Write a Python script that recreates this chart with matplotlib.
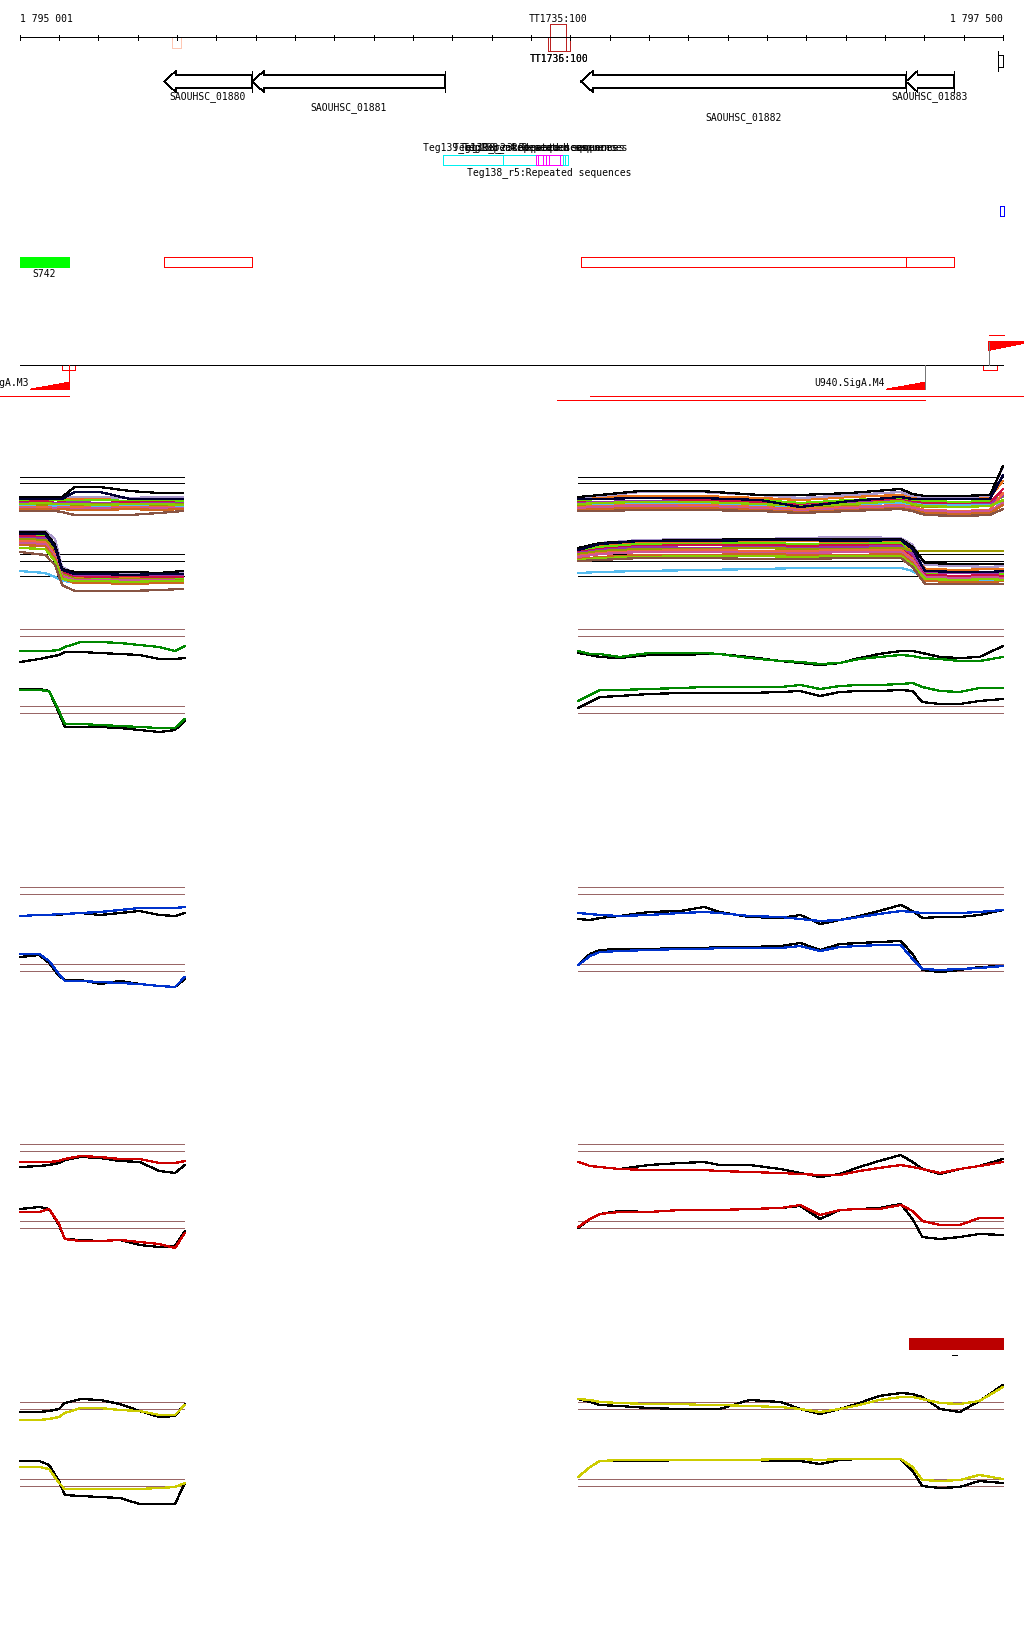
import matplotlib.pyplot as plt
from matplotlib.patches import Polygon, Rectangle

plt.rcParams['font.family'] = ['DejaVu Sans Mono']
plt.rcParams['lines.antialiased'] = False
plt.rcParams['patch.antialiased'] = False

# genome window shown
window_start = 1795001
window_end = 1797500
tick_step = 100

# genes (all on the minus strand)
gene_names = ['SAOUHSC_01880', 'SAOUHSC_01881', 'SAOUHSC_01882', 'SAOUHSC_01883']
gene_starts = [1795367, 1795591, 1796427, 1797253]
gene_ends = [1795591, 1796081, 1797253, 1797375]
gene_label_rows = [0, 1, 2, 0]

# terminators
term_names = ['TT1735:100', 'TT1736:100', 'TT1735:100']
term_starts = [1796348, 1796343, 1796343]
term_ends = [1796389, 1796399, 1796399]
term_sides = ['above', 'below', 'below']

# Teg regions
teg_starts = [1796076, 1796229, 1796313, 1796318, 1796330, 1796374, 1796381]
teg_ends = [1796394, 1796394, 1796381, 1796338, 1796345, 1796381, 1796386]
teg_colors = ['#00f0f0', '#00f0f0', '#ff00ff', '#ff00ff', '#ff00ff', '#ff00ff', '#00f0f0']
teg_labels = ['Teg139_r1:Repeated sequences', 'Teg139_r2:Repeated sequences',
              'Teg138_r5:Repeated sequences', 'Teg138_r3:Repeated sequences',
              'Teg138_r4:Repeated sequences', '', '']
teg_rows = ['top', 'top', 'bottom', 'top', 'top', 'top', 'top']

# small annotation row
srna_name = 'S742'
srna_start = 1795001
srna_end = 1795126

# promoters / TSS
prom_pos = [1795126, 1797302, 1797464]
prom_strand = ['-', '-', '+']
prom_names = ['U939.SigA.M3', 'U940.SigA.M4', '']
prom_stem_colors = ['#ff0000', '#777777', '#777777']
prom_len = 100
prom_box_starts = [1795108, 1797449]
prom_box_ends = [1795141, 1797485]

# transcripts (start, end, row)
tx_starts = [1794950, 1796450, 1796366]
tx_ends = [1795126, 1797553, 1797302]
tx_rows = [0, 0, 1]

# red bar over the last panel
bar_start = 1797261
bar_end = 1797500

# tiling array positions
left_pos = [1795001, 1795050, 1795075, 1795100, 1795115, 1795155, 1795205, 1795255,
            1795305, 1795355, 1795395, 1795420]
right_pos = [1796420, 1796450, 1796475, 1796525, 1796600, 1796680, 1796740, 1796780,
             1796855, 1796935, 1796985, 1797035, 1797085, 1797135, 1797185, 1797240,
             1797270, 1797295, 1797340, 1797390, 1797440, 1797500]
bundle_left_pos = [1795001, 1795065, 1795090, 1795108, 1795140, 1795205, 1795280, 1795355, 1795415]
bundle_right_pos = [1796420, 1796475, 1796577, 1796730, 1796882, 1796985, 1797111, 1797240,
                    1797270, 1797302, 1797390, 1797467, 1797500]

# condition bundle (log2 signal)
bundle_colors = ['#e8731c', '#66dd00', '#cc1144', '#9933aa', '#999900', '#55bbee', '#ee6644',
                 '#cc5599', '#cc6622', '#aa99cc', '#88cc00', '#885544', '#000000', '#000033']
bundle_up_left = [
    [8.25, 8.25, 8.0, 8.25, 8.0, 8.0, 8.25, 8.0, 8.25],
    [7.75, 7.5, 7.75, 7.75, 7.5, 7.75, 7.5, 7.75, 7.5],
    [7.25, 7.5, 7.0, 7.25, 7.25, 7.0, 7.25, 7.25, 7.0],
    [7.0, 6.75, 7.0, 7.0, 7.25, 7.0, 6.75, 7.0, 7.0],
    [6.5, 6.5, 6.75, 6.5, 6.5, 6.75, 6.5, 6.5, 6.75],
    [6.25, 6.0, 6.25, 6.25, 6.0, 6.25, 6.25, 6.0, 6.25],
    [6.0, 6.0, 5.75, 6.0, 6.0, 5.75, 6.0, 6.0, 5.75],
    [5.75, 5.5, 5.75, 5.75, 5.5, 5.75, 5.5, 5.75, 5.75],
    [5.5, 5.5, 5.25, 5.5, 5.25, 5.25, 5.5, 5.25, 5.5],
    [8.5, 8.5, 8.25, 8.5, 8.5, 8.5, 8.25, 8.5, 8.5],
    [6.75, 7.0, 6.75, 6.75, 6.75, 6.5, 6.75, 6.75, 6.5],
    [5.0, 5.0, 5.0, 4.75, 4.0, 4.0, 4.0, 4.5, 5.0],
    [8.5, 8.5, 8.5, 8.5, 11.0, 11.0, 10.0, 9.5, 9.5],
    [8.0, 8.0, 8.0, 8.0, 9.75, 9.75, 8.0, 8.0, 8.0],
]
bundle_up_right = [
    [8.25, 8.5, 8.75, 8.75, 8.25, 7.75, 8.5, 9.0, 8.5, 8.25, 8.25, 8.5, 12.5],
    [7.75, 8.0, 8.25, 8.25, 7.75, 7.0, 7.75, 8.25, 7.75, 7.5, 7.25, 7.5, 8.5],
    [7.25, 7.25, 7.5, 7.75, 7.25, 6.5, 7.25, 7.75, 7.25, 7.0, 6.75, 7.0, 10.5],
    [7.0, 7.25, 7.5, 7.25, 6.75, 6.25, 7.0, 7.5, 7.0, 6.5, 6.5, 6.75, 8.75],
    [6.5, 6.75, 7.0, 7.0, 6.5, 6.0, 6.5, 7.25, 6.5, 6.0, 6.0, 6.25, 7.5],
    [6.75, 6.75, 6.75, 6.75, 6.5, 6.25, 6.75, 7.0, 6.75, 6.5, 6.5, 6.5, 7.0],
    [6.0, 6.25, 6.5, 6.5, 6.0, 5.5, 6.0, 6.5, 6.0, 5.25, 5.0, 5.25, 9.5],
    [5.75, 6.0, 6.25, 6.0, 5.75, 5.0, 5.75, 6.25, 5.75, 5.0, 4.75, 5.0, 7.0],
    [5.25, 5.5, 5.75, 5.75, 5.25, 4.75, 5.25, 5.75, 5.25, 4.5, 4.25, 4.5, 6.5],
    [8.5, 8.75, 9.75, 9.75, 9.0, 8.25, 9.0, 9.75, 8.75, 8.5, 8.5, 8.75, 16.0],
    [6.75, 7.0, 7.25, 7.25, 6.75, 6.25, 6.75, 7.5, 6.75, 6.25, 6.0, 6.25, 7.75],
    [5.0, 5.0, 5.25, 5.25, 5.0, 4.5, 5.0, 5.5, 5.0, 4.0, 3.75, 4.0, 5.5],
    [8.5, 9.0, 10.0, 10.0, 9.0, 9.0, 9.5, 10.5, 9.25, 8.75, 8.75, 9.0, 16.25],
    [8.0, 8.0, 8.25, 8.25, 7.75, 6.0, 7.5, 8.5, 8.0, 8.0, 8.0, 8.0, 14.0],
]
bundle_low_left = [
    [15.5, 15.5, 12.0, 6.0, 4.5, 4.5, 4.25, 4.5, 4.5],
    [15.0, 15.0, 12.5, 5.5, 4.0, 4.25, 4.0, 4.0, 4.25],
    [14.75, 14.5, 11.0, 5.75, 4.75, 4.5, 4.75, 4.5, 4.5],
    [14.25, 14.25, 12.75, 6.5, 5.0, 5.0, 5.25, 5.0, 5.0],
    [14.0, 13.75, 11.5, 5.25, 4.0, 3.75, 4.0, 4.0, 3.75],
    [6.0, 5.5, 4.5, 3.5, 3.25, 3.25, 3.25, 3.0, 3.0],
    [13.5, 13.25, 10.0, 4.5, 3.5, 3.25, 3.5, 3.25, 3.5],
    [13.0, 12.75, 9.5, 4.75, 3.75, 3.75, 3.75, 3.75, 3.5],
    [12.5, 12.25, 9.0, 4.25, 3.0, 3.0, 2.75, 3.0, 3.0],
    [16.0, 16.0, 14.0, 7.0, 5.5, 5.25, 5.5, 5.25, 5.5],
    [11.75, 11.5, 8.5, 4.0, 3.5, 3.5, 3.25, 3.5, 3.5],
    [10.75, 10.0, 7.5, 2.5, 1.0, 1.0, 1.0, 1.25, 1.5],
    [15.75, 15.75, 12.5, 6.5, 5.75, 5.75, 5.75, 5.5, 6.0],
    [15.25, 15.25, 12.0, 6.25, 5.25, 5.25, 5.0, 5.25, 5.25],
]
bundle_low_right = [
    [11.25, 12.5, 13.25, 13.25, 13.5, 13.5, 13.25, 13.25, 10.5, 6.5, 6.25, 6.5, 6.5],
    [11.0, 12.0, 12.75, 12.75, 13.0, 12.75, 12.75, 13.0, 10.0, 5.5, 5.5, 5.75, 5.25],
    [10.75, 11.5, 12.25, 12.5, 12.5, 12.25, 12.5, 12.5, 9.5, 5.0, 4.75, 5.0, 4.75],
    [10.5, 11.25, 12.0, 11.75, 12.0, 11.75, 12.0, 12.25, 10.25, 5.75, 5.5, 5.5, 5.75],
    [10.25, 11.0, 11.5, 11.5, 11.75, 11.5, 11.5, 11.75, 11.0, 11.0, 11.0, 11.0, 11.0],
    [5.5, 5.75, 6.0, 6.25, 6.5, 6.75, 6.75, 6.75, 6.0, 4.0, 3.75, 3.75, 4.0],
    [9.75, 10.5, 11.0, 11.25, 11.0, 11.0, 11.25, 11.25, 9.0, 4.25, 4.0, 4.25, 4.0],
    [9.5, 10.25, 10.75, 10.75, 10.5, 10.5, 10.75, 10.75, 8.5, 4.5, 4.25, 4.5, 4.25],
    [9.0, 9.5, 10.0, 10.0, 10.25, 10.0, 10.0, 10.25, 8.0, 3.5, 3.25, 3.25, 3.5],
    [11.5, 13.0, 13.75, 14.0, 14.0, 14.25, 14.5, 14.25, 12.5, 7.5, 7.25, 7.0, 7.25],
    [8.75, 9.25, 9.5, 9.75, 9.75, 9.5, 9.75, 9.75, 7.5, 4.0, 3.75, 4.0, 3.75],
    [8.5, 8.75, 9.25, 9.25, 9.0, 9.0, 9.25, 9.25, 7.0, 2.75, 2.75, 2.75, 2.75],
    [11.75, 13.0, 13.5, 13.75, 14.0, 14.0, 14.0, 14.0, 12.0, 8.0, 7.75, 7.75, 7.75],
    [11.25, 12.75, 13.5, 13.5, 13.75, 13.75, 13.5, 13.75, 11.5, 6.0, 5.75, 5.75, 6.0],
]
bundle_up_thresholds = [13.5, 12.0]
bundle_low_thresholds = [10.25, 8.5, 4.75]

# single conditions: colour series and black reference, upper / lower strand
green_up_l = [8.0, 8.0, 8.0, 8.25, 9.0, 10.25, 10.25, 10.0, 9.5, 9.0, 8.0, 9.25]
green_up_r = [8.0, 7.25, 7.25, 6.5, 7.5, 7.5, 7.5, 7.25, 6.25, 5.5, 5.25, 4.75, 5.0, 6.0, 6.5,
              7.0, 6.75, 6.25, 6.0, 5.5, 5.5, 6.5]
green_up_ref_l = [5.25, 6.0, 6.5, 7.0, 7.75, 7.75, 7.5, 7.25, 7.0, 6.0, 6.0, 6.25]
green_up_ref_r = [7.5, 7.0, 6.5, 6.25, 7.0, 7.0, 7.25, 7.25, 6.5, 5.5, 5.0, 4.5, 5.0, 6.25, 7.25,
                  8.0, 8.0, 7.5, 6.5, 6.25, 6.5, 9.25]
green_low_l = [14.25, 14.25, 14.0, 9.0, 5.75, 5.75, 5.5, 5.25, 5.0, 4.75, 4.75, 7.0]
green_low_r = [11.5, 13.0, 14.25, 14.25, 14.5, 14.75, 15.0, 15.0, 15.0, 15.0, 15.5, 14.5, 15.25,
               15.5, 15.5, 15.75, 16.0, 15.0, 14.0, 13.75, 14.75, 14.75]
green_low_ref_l = [14.5, 14.5, 14.0, 8.5, 5.0, 5.0, 5.0, 4.75, 4.25, 3.75, 4.25, 6.5]
green_low_ref_r = [9.75, 11.25, 12.5, 12.75, 13.25, 13.5, 13.5, 13.5, 13.5, 13.75, 14.0, 12.75,
                   13.75, 14.0, 14.0, 14.25, 14.0, 11.25, 10.75, 10.75, 11.5, 12.0]

blue_up_l = [6.25, 6.5, 6.5, 6.75, 6.75, 7.0, 7.25, 7.75, 8.25, 8.25, 8.25, 8.5]
blue_up_r = [7.0, 6.75, 6.5, 6.25, 6.5, 7.0, 7.25, 7.0, 6.25, 6.0, 5.5, 5.0, 5.25, 6.0, 6.75,
             7.5, 7.25, 7.0, 7.0, 7.0, 7.25, 7.75]
blue_up_ref_l = [6.25, 6.5, 6.5, 6.5, 6.75, 7.0, 6.5, 7.0, 7.5, 6.5, 6.25, 7.0]
blue_up_ref_r = [5.5, 5.25, 5.75, 6.25, 7.25, 7.5, 8.5, 7.25, 6.0, 5.75, 6.5, 4.25, 5.25, 6.25,
                 7.5, 9.0, 7.5, 5.75, 6.0, 6.0, 6.5, 7.75]
blue_low_l = [12.75, 12.75, 11.0, 7.75, 6.0, 6.0, 5.75, 5.5, 5.25, 4.75, 4.5, 7.0]
blue_low_r = [10.0, 12.25, 13.25, 13.5, 13.75, 14.0, 14.0, 14.25, 14.25, 14.25, 14.75, 13.5,
              14.5, 14.75, 15.0, 15.0, 11.5, 9.0, 8.75, 9.0, 9.25, 9.75]
blue_low_ref_l = [12.0, 12.5, 10.5, 7.25, 6.25, 6.25, 5.25, 6.0, 5.25, 4.75, 4.5, 6.5]
blue_low_ref_r = [10.0, 12.75, 13.75, 14.0, 14.0, 14.25, 14.25, 14.5, 14.5, 14.75, 15.5, 13.75,
                  15.25, 15.5, 15.75, 16.0, 12.75, 8.75, 8.25, 8.75, 9.5, 9.75]

red_up_l = [9.0, 9.0, 9.0, 9.25, 9.75, 10.5, 10.25, 9.75, 9.75, 8.75, 8.75, 9.25]
red_up_r = [9.0, 8.0, 7.75, 7.25, 7.0, 7.0, 7.0, 6.75, 6.5, 6.25, 6.0, 5.75, 5.75, 6.75, 7.5,
            8.25, 7.75, 7.25, 6.25, 7.25, 8.0, 9.0]
red_up_ref_l = [7.75, 8.0, 8.25, 8.75, 9.5, 10.25, 10.0, 9.25, 9.0, 6.75, 6.25, 8.25]
red_up_ref_r = [9.0, 8.0, 7.75, 7.25, 8.25, 8.75, 9.0, 8.25, 8.25, 7.25, 6.25, 5.25, 6.0, 7.75,
                9.25, 10.75, 9.0, 7.25, 6.0, 7.25, 8.0, 9.75]
red_low_l = [12.5, 12.5, 13.25, 9.5, 5.75, 5.25, 5.25, 5.5, 5.0, 4.5, 3.5, 7.25]
red_low_r = [8.75, 10.75, 12.0, 12.5, 12.5, 13.0, 13.0, 13.0, 13.25, 13.5, 14.25, 11.75, 13.0,
             13.25, 13.25, 14.25, 12.75, 10.25, 9.25, 9.25, 11.0, 11.0]
red_low_ref_l = [13.25, 13.75, 13.25, 9.25, 5.75, 5.5, 5.25, 5.5, 4.25, 3.75, 4.0, 7.75]
red_low_ref_r = [8.5, 10.75, 12.0, 12.75, 12.5, 13.0, 13.0, 13.0, 13.25, 13.5, 14.0, 10.75, 13.0,
                 13.25, 13.5, 14.5, 10.75, 6.25, 5.75, 6.25, 7.0, 6.75]

yellow_up_l = [9.0, 9.0, 9.25, 9.75, 10.75, 12.0, 12.0, 11.5, 11.25, 10.25, 10.25, 12.75]
yellow_up_r = [14.25, 14.0, 13.5, 13.25, 13.0, 13.0, 12.75, 12.75, 12.5, 12.25, 11.75, 11.0,
               11.75, 12.75, 14.0, 14.75, 14.75, 14.25, 13.25, 13.0, 13.75, 17.25]
yellow_up_ref_l = [11.0, 11.0, 11.25, 11.75, 13.25, 14.25, 14.0, 13.0, 11.25, 9.75, 10.0, 13.0]
yellow_up_ref_r = [14.25, 13.5, 12.75, 12.5, 12.0, 11.75, 11.75, 11.75, 14.0, 13.5, 11.75, 10.5,
                   11.75, 13.25, 15.0, 15.75, 15.5, 14.75, 11.75, 11.0, 13.75, 17.75]
yellow_low_l = [13.25, 13.25, 12.75, 9.25, 7.75, 7.75, 7.75, 7.75, 7.75, 8.0, 8.25, 9.25]
yellow_low_r = [10.75, 13.25, 14.75, 15.0, 15.0, 15.0, 15.0, 15.0, 15.0, 15.25, 15.25, 15.0,
                15.25, 15.25, 15.25, 15.25, 13.25, 10.0, 9.75, 10.0, 11.25, 10.25]
yellow_low_ref_l = [14.75, 14.75, 13.75, 9.75, 6.25, 6.0, 5.75, 5.5, 4.0, 4.0, 4.0, 9.25]
yellow_low_ref_r = [10.75, 13.25, 14.75, 14.75, 14.75, 15.0, 15.0, 15.0, 15.0, 14.75, 14.75,
                    14.0, 15.0, 15.25, 15.25, 15.25, 12.25, 8.5, 8.0, 8.25, 9.75, 9.25]

up_thresholds = [13.5, 11.75]
low_thresholds = [10.25, 8.5]

thin = 0.5
data_lw = 0.9

fig = plt.figure(figsize=(10.24, 16.4), dpi=100)
ax = fig.add_axes([0, 0, 1, 1])
bp_per_px = (window_end - window_start) / 983
x0 = window_start - 20 * bp_per_px
x1 = x0 + 1024 * bp_per_px
ax.set_xlim(x0, x1)
ax.set_ylim(1640, 0)
ax.axis('off')
fs = 7

# ruler
ax.hlines(38, window_start, window_end, color='black', lw=thin)
ax.vlines(list(range(window_start - 1, window_end + 1, tick_step)), 35.5, 40.5, color='black', lw=thin)
ax.text(window_start, 19, f'{window_start:,}'.replace(',', ' '), fontsize=fs, ha='left', va='center')
ax.text(window_end, 19, f'{window_end:,}'.replace(',', ' '), fontsize=fs, ha='right', va='center')

# terminators
for name, s, e, side in zip(term_names, term_starts, term_ends, term_sides):
    if side == 'above':
        ax.add_patch(Rectangle((s, 25), e - s, 27, fill=False, ec='#bb2222', lw=thin))
        ax.text((s + e) / 2, 19, name, fontsize=fs, ha='center', va='center')
    else:
        ax.add_patch(Rectangle((s, 38), e - s, 14, fill=False, ec='#bb2222', lw=thin))
        ax.text((s + e) / 2, 59, name, fontsize=fs, ha='center', va='center')
ax.add_patch(Rectangle((1795387, 38), 23, 11, fill=False, ec='#ffc8b4', lw=thin))
ax.vlines(1797487, 52, 72, color='black', lw=thin)
ax.add_patch(Rectangle((1797487, 56), 13, 12, fill=False, ec='black', lw=thin))

# genes
head = 30
yc = 82.5
for name, s, e, row in zip(gene_names, gene_starts, gene_ends, gene_label_rows):
    pts = [(s, yc), (s + head, yc - 10.5), (s + head, yc - 6.5), (e, yc - 6.5),
           (e, yc + 6.5), (s + head, yc + 6.5), (s + head, yc + 10.5)]
    ax.add_patch(Polygon(pts, closed=True, fc='white', ec='black', lw=thin))
    ax.vlines(e, yc - 10.5, yc + 10.5, color='black', lw=thin)
    ax.text((s + e) / 2, 97 + 10.5 * row, name, fontsize=fs, ha='center', va='center')

# Teg regions
for s, e, c, lab, row in zip(teg_starts, teg_ends, teg_colors, teg_labels, teg_rows):
    ax.add_patch(Rectangle((s, 156), e - s, 10, fill=False, ec=c, lw=thin))
    if lab:
        ax.text((s + e) / 2, 148 if row == 'top' else 173, lab, fontsize=fs, ha='center', va='center')
ax.add_patch(Rectangle((1797492, 207), 10, 10, fill=False, ec='#0000ff', lw=thin))

# sRNA / operon row
ax.add_patch(Rectangle((srna_start, 258), srna_end - srna_start, 10, fc='#00ff00', ec='#00ff00', lw=thin))
ax.text((srna_start + srna_end) / 2, 274, srna_name, fontsize=fs, ha='center', va='center')
for s, e in zip(gene_starts[:1] + gene_starts[2:], gene_ends[:1] + gene_ends[2:]):
    ax.add_patch(Rectangle((s, 258), e - s, 10, fill=False, ec='#ff0000', lw=thin))

# promoters
ax.hlines(366, window_start, window_end, color='black', lw=thin)
for p, st, name, sc in zip(prom_pos, prom_strand, prom_names, prom_stem_colors):
    if st == '-':
        ax.vlines(p, 366, 390, color=sc, lw=thin)
        ax.add_patch(Polygon([(p - prom_len, 390), (p, 390), (p, 383)], closed=True, fc='#ff0000', ec='#ff0000', lw=thin))
        ax.text(p - prom_len - 2, 383, name, fontsize=fs, ha='right', va='center')
    else:
        ax.vlines(p, 343, 366, color=sc, lw=thin)
        ax.add_patch(Polygon([(p, 343), (p + prom_len, 343), (p, 351)], closed=True, fc='#ff0000', ec='#ff0000', lw=thin, clip_on=False))
        ax.hlines(336, p, p + 38, color='#ff0000', lw=thin)
for s, e in zip(prom_box_starts, prom_box_ends):
    ax.add_patch(Rectangle((s, 366), e - s, 5, fill=False, ec='#ff0000', lw=thin))
for s, e, r in zip(tx_starts, tx_ends, tx_rows):
    ax.hlines(397 + 4 * r, s, e, color='#ff0000', lw=thin)

# red bar above last panel
ax.add_patch(Rectangle((bar_start, 1339), bar_end - bar_start, 11, fc='#bb0000', ec='#bb0000', lw=thin))
ax.hlines(1356, 1797370, 1797383, color='black', lw=thin)

left_span = (1795001, 1795418)
right_span = (1796420, 1797500)


def panel_axes(top):
    a = fig.add_axes([0, 1 - (top + 64) / 1640, 1, 64 / 1640])
    a.set_xlim(x0, x1)
    a.set_ylim(0, 16)
    a.axis('off')
    return a


def thresholds(a, levels, color):
    for lv in levels:
        a.hlines(lv, left_span[0], left_span[1], color=color, lw=thin)
        a.hlines(lv, right_span[0], right_span[1], color=color, lw=thin)


# bundle panel
a_up = panel_axes(468)
a_low = panel_axes(532)
thresholds(a_up, bundle_up_thresholds, 'black')
thresholds(a_low, bundle_low_thresholds, 'black')
for c, ul, ur, ll, lr in zip(bundle_colors, bundle_up_left, bundle_up_right, bundle_low_left, bundle_low_right):
    a_up.plot(bundle_left_pos, ul, color=c, lw=data_lw, clip_on=False)
    a_up.plot(bundle_right_pos, ur, color=c, lw=data_lw, clip_on=False)
    a_low.plot(bundle_left_pos, ll, color=c, lw=data_lw, clip_on=False)
    a_low.plot(bundle_right_pos, lr, color=c, lw=data_lw, clip_on=False)

groups = [
    (620, '#008800', green_up_l, green_up_r, green_up_ref_l, green_up_ref_r,
     green_low_l, green_low_r, green_low_ref_l, green_low_ref_r),
    (878, '#0033cc', blue_up_l, blue_up_r, blue_up_ref_l, blue_up_ref_r,
     blue_low_l, blue_low_r, blue_low_ref_l, blue_low_ref_r),
    (1135, '#cc0000', red_up_l, red_up_r, red_up_ref_l, red_up_ref_r,
     red_low_l, red_low_r, red_low_ref_l, red_low_ref_r),
    (1393, '#cccc00', yellow_up_l, yellow_up_r, yellow_up_ref_l, yellow_up_ref_r,
     yellow_low_l, yellow_low_r, yellow_low_ref_l, yellow_low_ref_r),
]
for top, c, ul, ur, rul, rur, ll, lr, rll, rlr in groups:
    a_up = panel_axes(top)
    a_low = panel_axes(top + 64)
    thresholds(a_up, up_thresholds, '#996666')
    thresholds(a_low, low_thresholds, '#996666')
    a_up.plot(left_pos, rul, color='black', lw=data_lw, clip_on=False)
    a_up.plot(right_pos, rur, color='black', lw=data_lw, clip_on=False)
    a_up.plot(left_pos, ul, color=c, lw=data_lw, clip_on=False)
    a_up.plot(right_pos, ur, color=c, lw=data_lw, clip_on=False)
    a_low.plot(left_pos, rll, color='black', lw=data_lw, clip_on=False)
    a_low.plot(right_pos, rlr, color='black', lw=data_lw, clip_on=False)
    a_low.plot(left_pos, ll, color=c, lw=data_lw, clip_on=False)
    a_low.plot(right_pos, lr, color=c, lw=data_lw, clip_on=False)

plt.savefig('out.png', dpi=100)
